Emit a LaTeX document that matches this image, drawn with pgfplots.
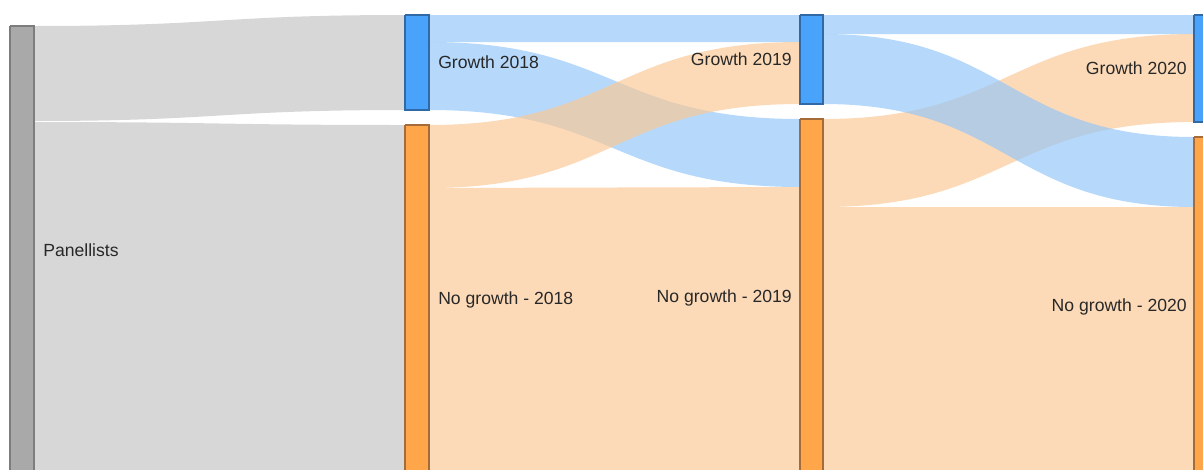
\documentclass[border=0pt]{standalone}
\usepackage{pgfplots}
\pgfplotsset{compat=1.18}
\usepackage{fontspec}
\setmainfont{Liberation Sans}
\definecolor{gnode}{RGB}{169,169,169}
\definecolor{gnodeb}{RGB}{125,125,125}
\definecolor{bnode}{RGB}{74,163,250}
\definecolor{bnodeb}{RGB}{48,105,165}
\definecolor{onode}{RGB}{255,166,74}
\definecolor{onodeb}{RGB}{165,108,58}
\definecolor{glink}{RGB}{196,196,196}
\definecolor{blink}{RGB}{146,198,249}
\definecolor{olink}{RGB}{252,200,148}
\definecolor{txt}{RGB}{40,40,40}
% flow: colour, x source, x middle, x target, source top, source bottom, target top, target bottom
\newcommand{\flow}[8]{%
  \fill[#1, fill opacity=0.67] (axis cs:#2,#5) .. controls (axis cs:#3,#5) and (axis cs:#3,#7) .. (axis cs:#4,#7)
    -- (axis cs:#4,#8) .. controls (axis cs:#3,#8) and (axis cs:#3,#6) .. (axis cs:#2,#6) -- cycle;}
\begin{document}
\begin{tikzpicture}
\begin{axis}[
  width=902.25pt, height=351.75pt, scale only axis,
  xmin=0, xmax=1203, ymin=0, ymax=469, y dir=reverse,
  hide axis, clip=true,
]
% links Panellists -> 2018
\flow{glink}{34}{220}{405}{26}{121}{15}{110}
\flow{glink}{34}{220}{405}{122}{476}{125}{476}
% links 2018 -> 2019
\flow{blink}{429}{614}{800}{15}{42}{15}{42}
\flow{blink}{429}{614}{800}{42}{110}{119}{187}
\flow{olink}{429}{614}{800}{125}{188}{42}{104}
\flow{olink}{429}{614}{800}{188}{476}{187}{476}
% links 2019 -> 2020
\flow{olink}{823}{1008}{1194}{119}{207}{34}{122}
\flow{olink}{823}{1008}{1194}{207}{476}{207}{476}
\flow{blink}{823}{1008}{1194}{15}{34}{15}{34}
\flow{blink}{823}{1008}{1194}{34}{104}{137}{207}
% nodes
\addplot[fill=gnode, draw=gnodeb, line width=0.8pt] coordinates {(10,26) (34,26) (34,476) (10,476) (10,26)};
\addplot[fill=bnode, draw=bnodeb, line width=0.8pt] coordinates {(405,15) (429,15) (429,110) (405,110) (405,15)};
\addplot[fill=onode, draw=onodeb, line width=0.8pt] coordinates {(405,125) (429,125) (429,476) (405,476) (405,125)};
\addplot[fill=bnode, draw=bnodeb, line width=0.8pt] coordinates {(800,15) (823,15) (823,104) (800,104) (800,15)};
\addplot[fill=onode, draw=onodeb, line width=0.8pt] coordinates {(800,119) (823,119) (823,476) (800,476) (800,119)};
\addplot[fill=bnode, draw=bnodeb, line width=0.8pt] coordinates {(1194,15) (1218,15) (1218,122) (1194,122) (1194,15)};
\addplot[fill=onode, draw=onodeb, line width=0.8pt] coordinates {(1194,137) (1218,137) (1218,476) (1194,476) (1194,137)};
% labels
\begin{scope}[every node/.style={inner sep=0pt, text=txt, font=\fontsize{13.2}{15}\selectfont}]
\node[anchor=west] at (axis cs:43,250) {Panellists};
\node[anchor=west] at (axis cs:438,62) {Growth 2018};
\node[anchor=west] at (axis cs:438,300) {No growth - 2018};
\node[anchor=east] at (axis cs:792,59) {Growth 2019};
\node[anchor=east] at (axis cs:792,298) {No growth - 2019};
\node[anchor=east] at (axis cs:1187,68) {Growth 2020};
\node[anchor=east] at (axis cs:1187,307) {No growth - 2020};
\end{scope}
\end{axis}
\pgfresetboundingbox
\path[use as bounding box] (current axis.south west) rectangle (current axis.north east);
\end{tikzpicture}
\end{document}
